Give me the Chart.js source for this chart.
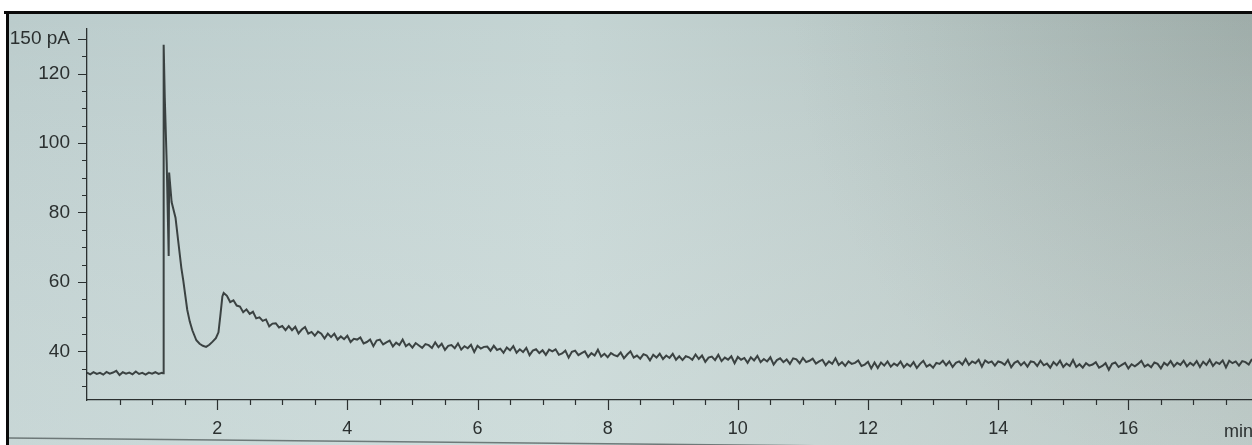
<!DOCTYPE html>
<html>
<head>
<meta charset="utf-8">
<script src="https://cdn.jsdelivr.net/npm/chart.js@4.4.1/dist/chart.umd.min.js"></script>
<style>
  html, body { margin: 0; padding: 0; background: #ffffff; }
  #wrap { width: 1252px; height: 445px; }
</style>
</head>
<body>
<div id="wrap"><canvas id="fid" width="1252" height="445"></canvas></div>
<script>
// detector signal (pA), sampled every 0.05 min
const sampleStep = 0.05;

// flat baseline before injection, from 0.00 to 1.15 min
const baselineStart = 0;
const baselineSignal = [
  33.9, 33.4, 34.0, 33.5, 33.8, 33.3, 34.1, 33.6, 33.9, 34.4, 33.2, 34.0,
  33.6, 33.9, 33.4, 34.2, 33.5, 33.8, 33.3, 33.9, 33.6, 34.0, 33.5, 33.8
];

// solvent front and the hump after it (irregular times)
const peakTimes = [
  1.170, 1.178, 1.195, 1.225, 1.255, 1.262, 1.30, 1.36, 1.40, 1.45, 1.48, 1.54,
  1.58, 1.62, 1.68, 1.73, 1.78, 1.83, 1.88, 1.93, 1.98, 2.02, 2.05, 2.08, 2.10
];
const peakSignal = [
  33.7, 128.3, 113.0, 94.0, 67.5, 91.5, 83.0, 78.5, 72.0, 64.0, 60.3, 52.0,
  48.5, 46.0, 43.2, 42.2, 41.6, 41.3, 41.9, 42.8, 43.8, 45.5, 50.5, 55.8, 56.8
];

// slow decay to the end of the run, from 2.15 to 17.90 min
const tailStart = 2.15;
const tailSignal = [
  56.0, 54.2, 54.7, 53.2, 52.9, 51.3, 52.1, 50.8, 51.4, 49.5, 49.8, 48.8, 49.2, 47.2, 48.0, 48.1, 46.9, 47.3, 46.1, 47.3,
  46.1, 47.1, 45.2, 46.3, 47.0, 45.1, 45.6, 44.5, 45.7, 45.1, 43.7, 45.1, 44.1, 45.1, 43.4, 44.3, 43.5, 44.5, 42.7, 43.6,
  43.4, 44.0, 42.3, 42.7, 43.4, 41.5, 43.1, 43.4, 42.0, 42.6, 43.1, 41.4, 42.5, 41.8, 43.4, 41.5, 42.2, 41.1, 42.4, 41.7,
  41.0, 42.1, 41.8, 41.0, 42.6, 41.2, 42.2, 40.4, 41.6, 41.8, 40.9, 42.3, 40.5, 41.5, 40.9, 41.9, 39.8, 41.6, 40.8, 41.3,
  41.4, 40.2, 41.6, 40.4, 40.8, 39.6, 41.1, 40.3, 41.5, 39.6, 40.6, 39.8, 41.0, 38.9, 40.2, 40.6, 39.5, 40.3, 39.0, 40.5,
  40.0, 40.6, 39.0, 39.4, 40.2, 38.2, 39.9, 40.2, 38.9, 39.5, 40.0, 38.4, 39.5, 38.8, 40.5, 38.5, 39.3, 38.3, 39.5, 38.9,
  38.6, 39.7, 38.0, 39.1, 40.0, 38.2, 38.8, 37.9, 39.2, 38.8, 37.4, 39.0, 38.2, 39.3, 37.8, 38.8, 38.1, 39.3, 37.6, 38.6,
  37.5, 38.6, 38.3, 37.6, 39.1, 37.8, 38.8, 37.0, 38.2, 38.5, 37.5, 39.0, 37.2, 38.2, 37.6, 38.6, 36.6, 38.4, 37.6, 38.1,
  36.7, 38.3, 37.4, 38.7, 36.9, 37.8, 37.1, 38.3, 36.2, 37.5, 38.0, 36.9, 37.7, 36.4, 38.0, 37.7, 36.6, 38.1, 36.9, 37.3,
  37.9, 36.5, 37.1, 37.6, 36.0, 37.1, 36.4, 38.0, 36.1, 36.9, 35.8, 37.1, 36.4, 36.7, 37.4, 35.8, 36.2, 37.0, 35.1, 36.8,
  35.2, 36.8, 35.9, 37.1, 35.6, 36.5, 35.9, 37.1, 35.4, 36.4, 35.7, 36.9, 35.2, 36.4, 37.3, 35.6, 36.2, 35.3, 36.7, 36.4,
  37.3, 36.0, 37.1, 35.5, 36.7, 37.1, 36.2, 37.8, 36.1, 37.1, 36.6, 37.6, 35.6, 37.4, 36.7, 37.1, 35.9, 37.1, 36.8, 36.1,
  37.5, 35.4, 36.7, 37.2, 36.0, 36.9, 35.6, 37.1, 36.9, 35.8, 37.3, 36.0, 36.5, 35.3, 36.9, 36.0, 37.3, 35.5, 36.5, 35.8,
  37.5, 35.5, 36.3, 35.3, 36.6, 35.9, 36.2, 36.9, 35.3, 35.8, 36.6, 34.7, 36.4, 36.8, 35.5, 36.1, 36.7, 35.1, 36.3, 35.7,
  36.4, 37.3, 35.6, 36.2, 35.4, 36.8, 36.4, 35.1, 36.7, 36.0, 37.2, 35.7, 36.7, 36.1, 37.3, 35.7, 36.7, 36.0, 37.2, 35.5,
  37.0, 36.1, 37.6, 35.8, 36.9, 36.4, 37.4, 35.4, 37.3, 36.6, 37.1, 35.9, 37.2, 36.9, 36.2, 37.8
];

// axis ticks
const xMarks = [0.5, 1, 1.5, 2, 2.5, 3, 3.5, 4, 4.5, 5, 5.5, 6, 6.5, 7, 7.5, 8, 8.5, 9,
  9.5, 10, 10.5, 11, 11.5, 12, 12.5, 13, 13.5, 14, 14.5, 15, 15.5, 16, 16.5, 17, 17.5];
const xLabelValues = [2, 4, 6, 8, 10, 12, 14, 16];
const xUnit = 'min';
const yMarks = [30, 35, 40, 45, 50, 55, 60, 65, 70, 75, 80, 85, 90, 95, 100, 105, 110, 115, 120, 125, 130];
const yLabelValues = [40, 60, 80, 100, 120, 130];
const yLabelTexts = ['40', '60', '80', '100', '120', '150 pA'];

const inkColor = '#2b3030';
const fontFamily = "'Liberation Sans Narrow', 'Arial Narrow', 'Liberation Sans', Arial, sans-serif";

const points = [];
baselineSignal.forEach((v, i) => points.push({ x: +(baselineStart + i * sampleStep).toFixed(2), y: v }));
peakTimes.forEach((t, i) => points.push({ x: t, y: peakSignal[i] }));
tailSignal.forEach((v, i) => points.push({ x: +(tailStart + i * sampleStep).toFixed(2), y: v }));

// paper, frame and the edge of the sheet
const paperPlugin = {
  id: 'paper',
  beforeDraw(chart) {
    const ctx = chart.ctx;
    const w = chart.width, h = chart.height;
    ctx.save();
    ctx.fillStyle = '#ffffff';
    ctx.fillRect(0, 0, w, h);

    const g = ctx.createLinearGradient(9, 0, w, 0);
    g.addColorStop(0, '#bbcccc');
    g.addColorStop(0.45, '#c4d4d3');
    g.addColorStop(0.72, '#b9c8c6');
    g.addColorStop(1, '#acbab7');
    ctx.fillStyle = g;
    ctx.fillRect(9, 13, w - 9, h - 13);

    // darker corner at the top right, lighter towards the bottom
    const r = ctx.createRadialGradient(w, 20, 10, w, 20, 460);
    r.addColorStop(0, 'rgba(125,140,135,0.28)');
    r.addColorStop(1, 'rgba(125,140,135,0)');
    ctx.fillStyle = r;
    ctx.fillRect(9, 13, w - 9, h - 13);
    const v = ctx.createLinearGradient(0, 13, 0, h);
    v.addColorStop(0, 'rgba(255,255,255,0)');
    v.addColorStop(1, 'rgba(230,240,238,0.3)');
    ctx.fillStyle = v;
    ctx.fillRect(9, 13, w - 9, h - 13);

    ctx.fillStyle = '#0a0a0a';
    ctx.fillRect(4, 11, w - 4, 3);
    ctx.fillRect(6, 11, 3, h - 11);

    ctx.strokeStyle = 'rgba(70,80,80,0.7)';
    ctx.lineWidth = 1.5;
    ctx.beginPath();
    ctx.moveTo(9, 438);
    ctx.lineTo(840, 446);
    ctx.stroke();
    ctx.restore();
  }
};

// long and short tick marks, plus the unit at the end of the time axis
const ticksPlugin = {
  id: 'tickMarks',
  afterDraw(chart) {
    const ctx = chart.ctx;
    const xs = chart.scales.x, ys = chart.scales.y;
    const area = chart.chartArea;
    ctx.save();
    ctx.strokeStyle = inkColor;
    ctx.lineWidth = 1.2;
    ctx.beginPath();
    xMarks.forEach(v => {
      const px = Math.round(xs.getPixelForValue(v)) + 0.5;
      const len = xLabelValues.includes(v) ? 10 : 5;
      ctx.moveTo(px, area.bottom);
      ctx.lineTo(px, area.bottom + len);
    });
    yMarks.forEach(v => {
      const py = Math.round(ys.getPixelForValue(v)) + 0.5;
      const len = yLabelValues.includes(v) ? 9 : 5;
      ctx.moveTo(area.left, py);
      ctx.lineTo(area.left - len, py);
    });
    ctx.stroke();

    ctx.fillStyle = inkColor;
    ctx.font = '18px ' + fontFamily;
    ctx.textAlign = 'left';
    ctx.textBaseline = 'middle';
    ctx.fillText(xUnit, 1224, 432);
    ctx.restore();
  }
};

new Chart(document.getElementById('fid'), {
  type: 'scatter',
  data: {
    datasets: [{
      data: points,
      showLine: true,
      borderColor: 'rgba(34,40,40,0.85)',
      borderWidth: 2,
      pointRadius: 0,
      tension: 0
    }]
  },
  options: {
    responsive: false,
    animation: false,
    parsing: false,
    layout: { padding: { top: 28, left: 0, right: 0, bottom: 0 } },
    plugins: {
      legend: { display: false },
      tooltip: { enabled: false }
    },
    scales: {
      x: {
        type: 'linear',
        min: 0,
        max: 17.9,
        afterFit(scale) { scale.height = 45; },
        afterBuildTicks(scale) { scale.ticks = xMarks.map(v => ({ value: v })); },
        grid: { display: false, drawTicks: false },
        border: { display: true, color: inkColor, width: 1.3 },
        ticks: {
          autoSkip: false,
          maxRotation: 0,
          padding: 18,
          color: inkColor,
          font: { family: fontFamily, size: 18 },
          callback: v => xLabelValues.includes(v) ? String(v) : ''
        }
      },
      y: {
        type: 'linear',
        min: 26,
        max: 133,
        afterFit(scale) { scale.width = 87; },
        afterBuildTicks(scale) { scale.ticks = yMarks.map(v => ({ value: v })); },
        grid: { display: false, drawTicks: false },
        border: { display: true, color: inkColor, width: 1.3 },
        ticks: {
          autoSkip: false,
          padding: 17,
          color: inkColor,
          font: { family: fontFamily, size: 19 },
          callback: v => {
            const i = yLabelValues.indexOf(v);
            return i >= 0 ? yLabelTexts[i] : '';
          }
        }
      }
    }
  },
  plugins: [paperPlugin, ticksPlugin]
});
</script>
</body>
</html>
